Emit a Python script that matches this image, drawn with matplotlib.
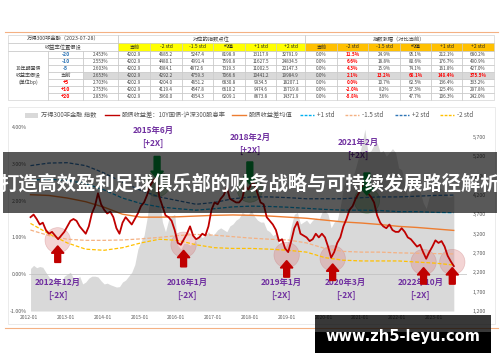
import numpy as np
import matplotlib.pyplot as plt
from matplotlib.patches import Rectangle, Circle, FancyArrow
from matplotlib.lines import Line2D

plt.rcParams['font.family'] = ['Noto Sans CJK SC', 'DejaVu Sans']

# =============================================================================
# TABLE DATA
# =============================================================================
table_title = '万得300非金融（2023-07-28）'
bp_labels = ['-20', '-10', '-5', '当前', '+5', '+10', '+20']
yield_labels = ['2.453%', '2.553%', '2.603%', '2.653%', '2.703%', '2.753%', '2.853%']
std_headers = ['当前', '-2 std', '-1.5 std', '均值', '+1 std', '+2 std']

pts_cur = [4202.9, 4202.9, 4202.9, 4202.9, 4202.9, 4202.9, 4202.9]
pts_m2 = [4685.2, 4480.1, 4384.1, 4292.2, 4204.0, 4119.4, 3960.0]
pts_m15 = [5247.4, 4991.4, 4872.6, 4759.3, 4651.2, 4547.8, 4354.3]
pts_mean = [8198.9, 7590.8, 7319.3, 7066.6, 6830.8, 6610.2, 6209.1]
pts_p1 = [13117.9, 11627.5, 11002.5, 10441.2, 9934.5, 9474.6, 8673.8]
pts_p2 = [32791.9, 24834.5, 22147.3, 19984.9, 18207.1, 16719.8, 14371.9]

chg_cur = [0.0, 0.0, 0.0, 0.0, 0.0, 0.0, 0.0]
chg_m2 = [11.5, 6.6, 4.3, 2.1, 0.0, -2.0, -5.8]
chg_m15 = [24.9, 18.8, 15.9, 13.2, 10.7, 8.2, 3.6]
chg_mean = [95.1, 80.6, 74.1, 68.1, 62.5, 57.3, 47.7]
chg_p1 = [212.1, 176.7, 161.8, 148.4, 136.4, 125.4, 106.3]
chg_p2 = [680.2, 490.9, 427.0, 375.5, 333.2, 297.8, 242.0]

# =============================================================================
# CHART DATA (monthly, 2012-01 .. 2023-07)
# =============================================================================
# 股债收益差 (%)
gap = [1.55, 1.62, 1.50, 1.35, 1.40, 1.20, 1.10, 1.15, 1.05, 0.95, 1.05, 1.15,
       1.30, 1.45, 1.50, 1.45, 1.30, 1.20, 1.10, 1.30, 1.65, 1.85, 2.20, 1.90,
       1.75, 1.65, 1.70, 1.55, 1.25, 1.10, 1.40, 1.55, 1.45, 1.35, 1.50, 1.65,
       1.85, 1.95, 2.15, 2.40, 2.55, 2.60, 2.10, 1.85, 1.60, 1.55, 1.45, 1.20,
       0.85, 0.80, 0.95, 1.10, 1.30, 1.05, 0.95, 1.00, 1.10, 1.05, 1.30, 1.75,
       1.95, 1.90, 2.05, 2.15, 2.35, 2.05, 2.00, 1.95, 1.95, 2.05, 2.40, 2.30,
       2.45, 2.45, 2.20, 1.95, 1.90, 1.55, 1.45, 1.35, 1.20, 0.90, 0.95, 0.70,
       0.60, 0.90, 1.25, 1.42, 1.10, 1.05, 1.00, 0.90, 0.95, 1.10, 1.00, 1.10,
       1.00, 0.75, 0.45, 0.60, 0.85, 1.00, 1.30, 1.50, 1.75, 1.85, 2.05, 2.20,
       2.35, 2.50, 2.20, 2.10, 1.95, 1.60, 1.40, 1.30, 1.25, 1.35, 1.20, 1.15,
       1.15, 1.25, 1.15, 1.00, 0.95, 0.85, 0.75, 0.80, 0.60, 0.42, 0.60, 0.75,
       0.92, 0.85, 0.90, 0.75, 0.50, 0.35, 0.22]

# 万得300非金融 指数
index_vals = [2300, 2380, 2320, 2350, 2330, 2200, 2080, 2000, 2050, 2020, 1920, 2100,
              2150, 2200, 2050, 2000, 2100, 1900, 1950, 2050, 2100, 2100, 2080, 1980,
              1900, 1920, 1880, 1850, 1820, 1830, 1950, 2000, 2100, 2200, 2400, 2800,
              3000, 3150, 3600, 4150, 4700, 5000, 4100, 3500, 3250, 3550, 3650, 3700,
              2900, 2800, 2950, 2950, 2900, 2950, 3050, 3150, 3100, 3150, 3250, 3150,
              3200, 3300, 3350, 3300, 3250, 3400, 3450, 3550, 3600, 3750, 3700, 3700,
              3800, 3650, 3550, 3500, 3500, 3300, 3250, 3150, 3200, 2950, 3000, 2850,
              3000, 3400, 3700, 3750, 3450, 3500, 3550, 3450, 3550, 3600, 3550, 3750,
              3800, 3700, 3350, 3500, 3550, 3900, 4400, 4600, 4500, 4650, 4900, 5200,
              5500, 5900, 5300, 5350, 5500, 5550, 5300, 5350, 5200, 5300, 5400, 5300,
              4900, 4850, 4500, 4100, 4300, 4600, 4400, 4300, 4000, 3850, 4150, 4200,
              4450, 4400, 4350, 4300, 4150, 4150, 4200]

# half-yearly mean / std bands (%)
band_mean = [2.16, 2.14, 2.07, 1.97, 1.82, 1.63, 1.55, 1.55, 1.56, 1.58, 1.60, 1.61,
             1.60, 1.58, 1.55, 1.52, 1.47, 1.42, 1.39, 1.35, 1.30, 1.27, 1.23, 1.19]
band_p1 = [2.56, 2.58, 2.55, 2.46, 2.29, 2.07, 1.92, 1.83, 1.78, 1.74, 1.78, 1.83,
           1.85, 1.84, 1.82, 1.79, 1.76, 1.74, 1.74, 1.73, 1.70, 1.70, 1.68, 1.67]
band_p2 = [2.95, 3.02, 3.03, 2.95, 2.75, 2.50, 2.28, 2.10, 2.00, 1.90, 1.95, 2.05,
           2.10, 2.10, 2.08, 2.05, 2.05, 2.05, 2.08, 2.10, 2.10, 2.12, 2.14, 2.15]
band_m15 = [1.20, 1.05, 0.95, 0.92, 0.92, 0.93, 0.96, 1.00, 1.05, 1.08, 1.06, 1.02,
            0.98, 0.95, 0.93, 0.85, 0.70, 0.62, 0.60, 0.60, 0.58, 0.57, 0.56, 0.55]
band_m2 = [1.38, 1.10, 0.85, 0.68, 0.65, 0.72, 0.85, 0.95, 0.92, 0.80, 0.72, 0.70,
           0.70, 0.68, 0.65, 0.60, 0.45, 0.38, 0.36, 0.36, 0.36, 0.33, 0.30, 0.25]

# annotated extremes: label, circle date, circle value, label date, label value
high_events = [('2015年6月', 2015.48, 2.45, 2015.37, 3.91),
               ('2018年2月', 2018.00, 2.30, 2018.00, 3.72),
               ('2021年2月', 2021.18, 2.00, 2020.94, 3.59)]
low_events = [('2012年12月', 2012.78, 0.92, 2012.78),
              ('2016年1月', 2016.20, 0.80, 2016.30),
              ('2019年1月', 2019.00, 0.52, 2018.85),
              ('2020年3月', 2020.25, 0.43, 2020.60),
              ('2022年10月', 2022.72, 0.33, 2022.63),
              ('', 2023.50, 0.33, 2023.50)]

months = 2012 + (np.arange(len(gap)) + 0.5) / 12
band_t = 2012.04 + 0.5 * np.arange(len(band_mean))

# =============================================================================
# FIGURE
# =============================================================================
fig = plt.figure(figsize=(5, 3.62), dpi=100)

# pixel overlay for table, legend and frames
bg = fig.add_axes([0, 0, 1, 1], zorder=0)
bg.set_xlim(0, 500)
bg.set_ylim(362, 0)
bg.axis('off')

TXT = '#404040'
GRID = '#C8C8C8'


def cell(x0, x1, y0, y1, text='', color=TXT, face='none', size=3.3, bold=False):
    bg.add_patch(Rectangle((x0, y0), x1 - x0, y1 - y0, facecolor=face,
                           edgecolor=GRID, lw=0.4))
    if text:
        bg.text((x0 + x1) / 2, (y0 + y1) / 2, text, ha='center', va='center',
                fontsize=size, color=color, fontweight='bold' if bold else 'normal')


col_x = [8, 48, 83, 118, 150, 182, 213, 245, 276, 305, 337, 368, 400, 431, 462, 494]
row_y = [35, 43, 51, 58, 65, 72, 79, 86, 93, 100]

bg.plot([5, 498], [32, 32], color='#F4B183', lw=0.8)
bg.plot([5, 498], [328, 328], color='#F4B183', lw=0.8)

cell(8, 118, 35, 43, table_title, size=3.8)
cell(118, 305, 35, 43, '对应的指数点位', size=3.8)
cell(305, 494, 35, 43, '指数涨幅（对比当前）', size=3.8)
cell(8, 118, 43, 51, '收益率位置假设', size=3.8)
for j, h in enumerate(std_headers):
    cell(col_x[3 + j], col_x[4 + j], 43, 51, h, color='#262626', face='#FFFF00', size=3.6)
    cell(col_x[9 + j], col_x[10 + j], 43, 51, h, color='#262626', face='#FFC000', size=3.6)

cell(8, 48, 51, 100, '10年期国债\n收益率假设\n(单位bp)', size=3.6)
points = [pts_cur, pts_m2, pts_m15, pts_mean, pts_p1, pts_p2]
changes = [chg_cur, chg_m2, chg_m15, chg_mean, chg_p1, chg_p2]
for i in range(7):
    y0, y1 = row_y[2 + i], row_y[3 + i]
    face = '#D9D9D9' if i == 3 else 'none'
    lab = bp_labels[i]
    c = '#2E75B6' if lab.startswith('-') else ('#FF0000' if lab.startswith('+') else TXT)
    cell(48, 83, y0, y1, lab, color=c, size=3.8, bold=i != 3)
    cell(83, 118, y0, y1, yield_labels[i], face=face)
    for j in range(6):
        cell(col_x[3 + j], col_x[4 + j], y0, y1, f'{points[j][i]:.1f}', face=face)
        red = j == 1 or (i == 3 and j > 0)
        cell(col_x[9 + j], col_x[10 + j], y0, y1, f'{changes[j][i]:.1f}%', face=face,
             color='#FF0000' if red else TXT, bold=red)

# chart panel frame
bg.add_patch(Rectangle((8, 107), 487, 217, facecolor='white', edgecolor='#E3E3E3', lw=0.5))

# legend
leg_y = 115
bg.add_patch(Rectangle((25, leg_y - 2.5), 13, 5, color='#D9D9D9', lw=0))
bg.text(41, leg_y, '万得300非金融 指数', fontsize=4.5, color='#595959', va='center')
legend_lines = [(105, '#C00000', '-', '股债收益差：10Y国债-沪深300股息率'),
                (232, '#ED7D31', '-', '股债收益差均值'),
                (300, '#00B0F0', '--', '+1 std'),
                (345, '#F4B183', '--', '-1.5 std'),
                (395, '#2E75B6', '--', '+2 std'),
                (440, '#FFC000', '--', '-2 std')]
for x0, c, ls, lab in legend_lines:
    bg.add_line(Line2D([x0, x0 + 14], [leg_y, leg_y], color=c, lw=1.0,
                       ls=(0, (2, 1)) if ls == '--' else '-'))
    bg.text(x0 + 17, leg_y, lab, fontsize=4.5, color='#595959', va='center')

# chart axes
L, R = 29 / 500, 467 / 500
B, T = 1 - 311 / 362, 1 - 127 / 362
rect = [L, B, R - L, T - B]
xlim = (2012.0, 2023.9)

ax_idx = fig.add_axes(rect, zorder=1)
ax_idx.patch.set_visible(False)
ax_idx.fill_between(months, 1200, index_vals, color='#D9D9D9', lw=0)
ax_idx.set_xlim(*xlim)
ax_idx.set_ylim(1200, 5958)
ax_idx.yaxis.tick_right()
idx_ticks = list(range(1200, 6000, 500))
ax_idx.set_yticks(idx_ticks)
ax_idx.set_yticklabels([f'{v:,}' for v in idx_ticks])
ax_idx.tick_params(axis='y', length=0, pad=4, labelsize=3.8, labelcolor='#595959')
ax_idx.set_xticks([])
for s in ax_idx.spines.values():
    s.set_visible(False)

ax = fig.add_axes(rect, zorder=2)
ax.patch.set_visible(False)
ax.set_xlim(*xlim)
ax.set_ylim(-1, 4)
ax.axhline(0, color='#BFBFBF', lw=0.5, zorder=1)
dash = (0, (3, 1.5))
ax.plot(band_t, band_m2, color='#FFC000', lw=0.9, ls=dash)
ax.plot(band_t, band_m15, color='#F4B183', lw=0.9, ls=dash)
ax.plot(band_t, band_p2, color='#2E75B6', lw=0.9, ls=dash)
ax.plot(band_t, band_p1, color='#00B0F0', lw=0.9, ls=dash)
ax.plot(band_t, band_mean, color='#ED7D31', lw=1.0)
ax.plot(months, gap, color='#C00000', lw=1.3)

years = list(range(2012, 2024))
ax.set_xticks(years)
ax.set_xticklabels([f'{y}-01' for y in years])
ax.set_yticks(range(-1, 5))
ax.set_yticklabels([f'{v:.2f}%' for v in range(-1, 5)])
ax.tick_params(axis='x', length=0, pad=3, labelsize=3.5, labelcolor='#595959')
ax.tick_params(axis='y', length=0, pad=1.5, labelsize=3.8, labelcolor='#595959')
for s in ax.spines.values():
    s.set_visible(False)

PURPLE = '#7030A0'
for lab, cx, cy, lx, ly in high_events:
    ax.add_patch(Circle((cx, cy), 0.345, facecolor=(0.35, 0.65, 0.35, 0.35),
                        edgecolor=(0.3, 0.55, 0.3, 0.4), lw=0.5, zorder=1.5))
    ax.add_patch(FancyArrow(cx, cy + 0.75, 0, -0.6, width=0.16, head_width=0.34,
                            head_length=0.2, length_includes_head=True,
                            color='#00A040', zorder=4))
    ax.text(lx, ly, lab, ha='center', va='center', fontsize=6, color=PURPLE,
            fontweight='bold', clip_on=False)
    ax.text(lx, ly - 0.36, '[+2X]', ha='center', va='center', fontsize=6,
            color=PURPLE, fontweight='bold', clip_on=False)

for lab, cx, cy, lx in low_events:
    ax.add_patch(Circle((cx, cy), 0.345, facecolor=(0.85, 0.45, 0.45, 0.3),
                        edgecolor=(0.8, 0.5, 0.5, 0.4), lw=0.5, zorder=1.5))
    ax.add_patch(FancyArrow(cx, cy - 0.6, 0, 0.45, width=0.16, head_width=0.34,
                            head_length=0.2, length_includes_head=True,
                            color='#C00000', zorder=4))
    if lab:
        ax.text(lx, -0.22, lab, ha='center', va='center', fontsize=6, color=PURPLE,
                fontweight='bold')
        ax.text(lx, -0.58, '[-2X]', ha='center', va='center', fontsize=6,
                color=PURPLE, fontweight='bold')

# overlay: banner and watermark
top = fig.add_axes([0, 0, 1, 1], zorder=10)
top.set_xlim(0, 500)
top.set_ylim(362, 0)
top.axis('off')
top.patch.set_visible(False)
top.add_patch(Rectangle((3, 152), 494, 61, facecolor='black', alpha=0.65, lw=0))
top.text(250, 184, '打造高效盈利足球俱乐部的财务战略与可持续发展路径解析',
         ha='center', va='center', fontsize=13.9, color='white', fontweight='bold')
top.add_patch(Rectangle((315, 315), 176, 17, facecolor='black', alpha=0.78, lw=0))
top.add_patch(Rectangle((315, 332), 176, 21, facecolor='black', lw=0))
top.text(403, 337, 'www.zh5-leyu.com', ha='center', va='center', fontsize=10.5,
         color='white', fontweight='bold', family='DejaVu Sans')

fig.savefig('out.png', dpi=100)
